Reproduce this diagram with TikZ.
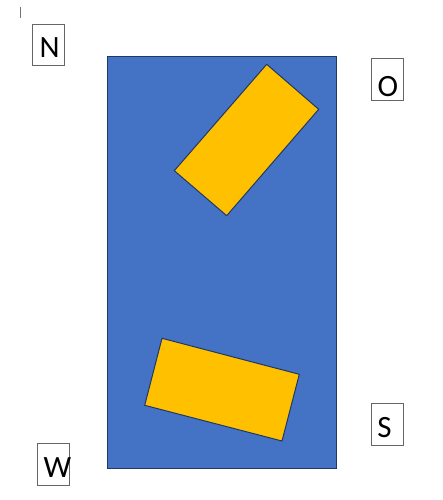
\documentclass[tikz,border=0pt]{standalone}
\usepackage{fontspec}
\setmainfont{Carlito}
\definecolor{fieldblue}{HTML}{4472C4}
\definecolor{edgeblue}{HTML}{1F3864}
\definecolor{plateyellow}{HTML}{FFC000}
\tikzset{
  labelbox/.style={draw=black!60, line width=0.9pt, fill=white},
  labeltext/.style={anchor=base west, inner sep=0pt, font=\fontsize{31}{34}\selectfont},
  plate/.style={fill=plateyellow, draw=edgeblue, line width=1pt},
}
\begin{document}
\begin{tikzpicture}[x=1pt,y=-1pt]
\useasboundingbox (0,0) rectangle (442,500);
% cursor mark
\coordinate (c1) at (20,7);
\coordinate (c2) at (20,18);
\draw[black!55, line width=0.8pt] (c1) -- (c2);
% field
\fill[fieldblue, draw=edgeblue, line width=0.8pt] (107,56) rectangle (336,468);
% plates
\draw[plate] (266.7,64.3) -- (318.7,109.3) -- (226.7,215.7) -- (174.3,170.7) -- cycle;
\draw[plate] (162,338.3) -- (299.3,374.3) -- (282,441) -- (144.7,405.3) -- cycle;
% labels
\draw[labelbox] (32.3,24) rectangle (64,65.7);
\node[labeltext] (N) at (39.5,57.5) {N};
\draw[labelbox] (371.7,58.3) rectangle (403.3,100.7);
\node[labeltext] (O) at (377.5,96.2) {O};
\draw[labelbox] (371.7,403.3) rectangle (403.3,445);
\node[labeltext] (S) at (377.2,437.5) {S};
\draw[labelbox] (37.3,443.3) rectangle (69,485);
\node[labeltext] (W) at (43.5,477.3) {W};
\end{tikzpicture}
\end{document}
